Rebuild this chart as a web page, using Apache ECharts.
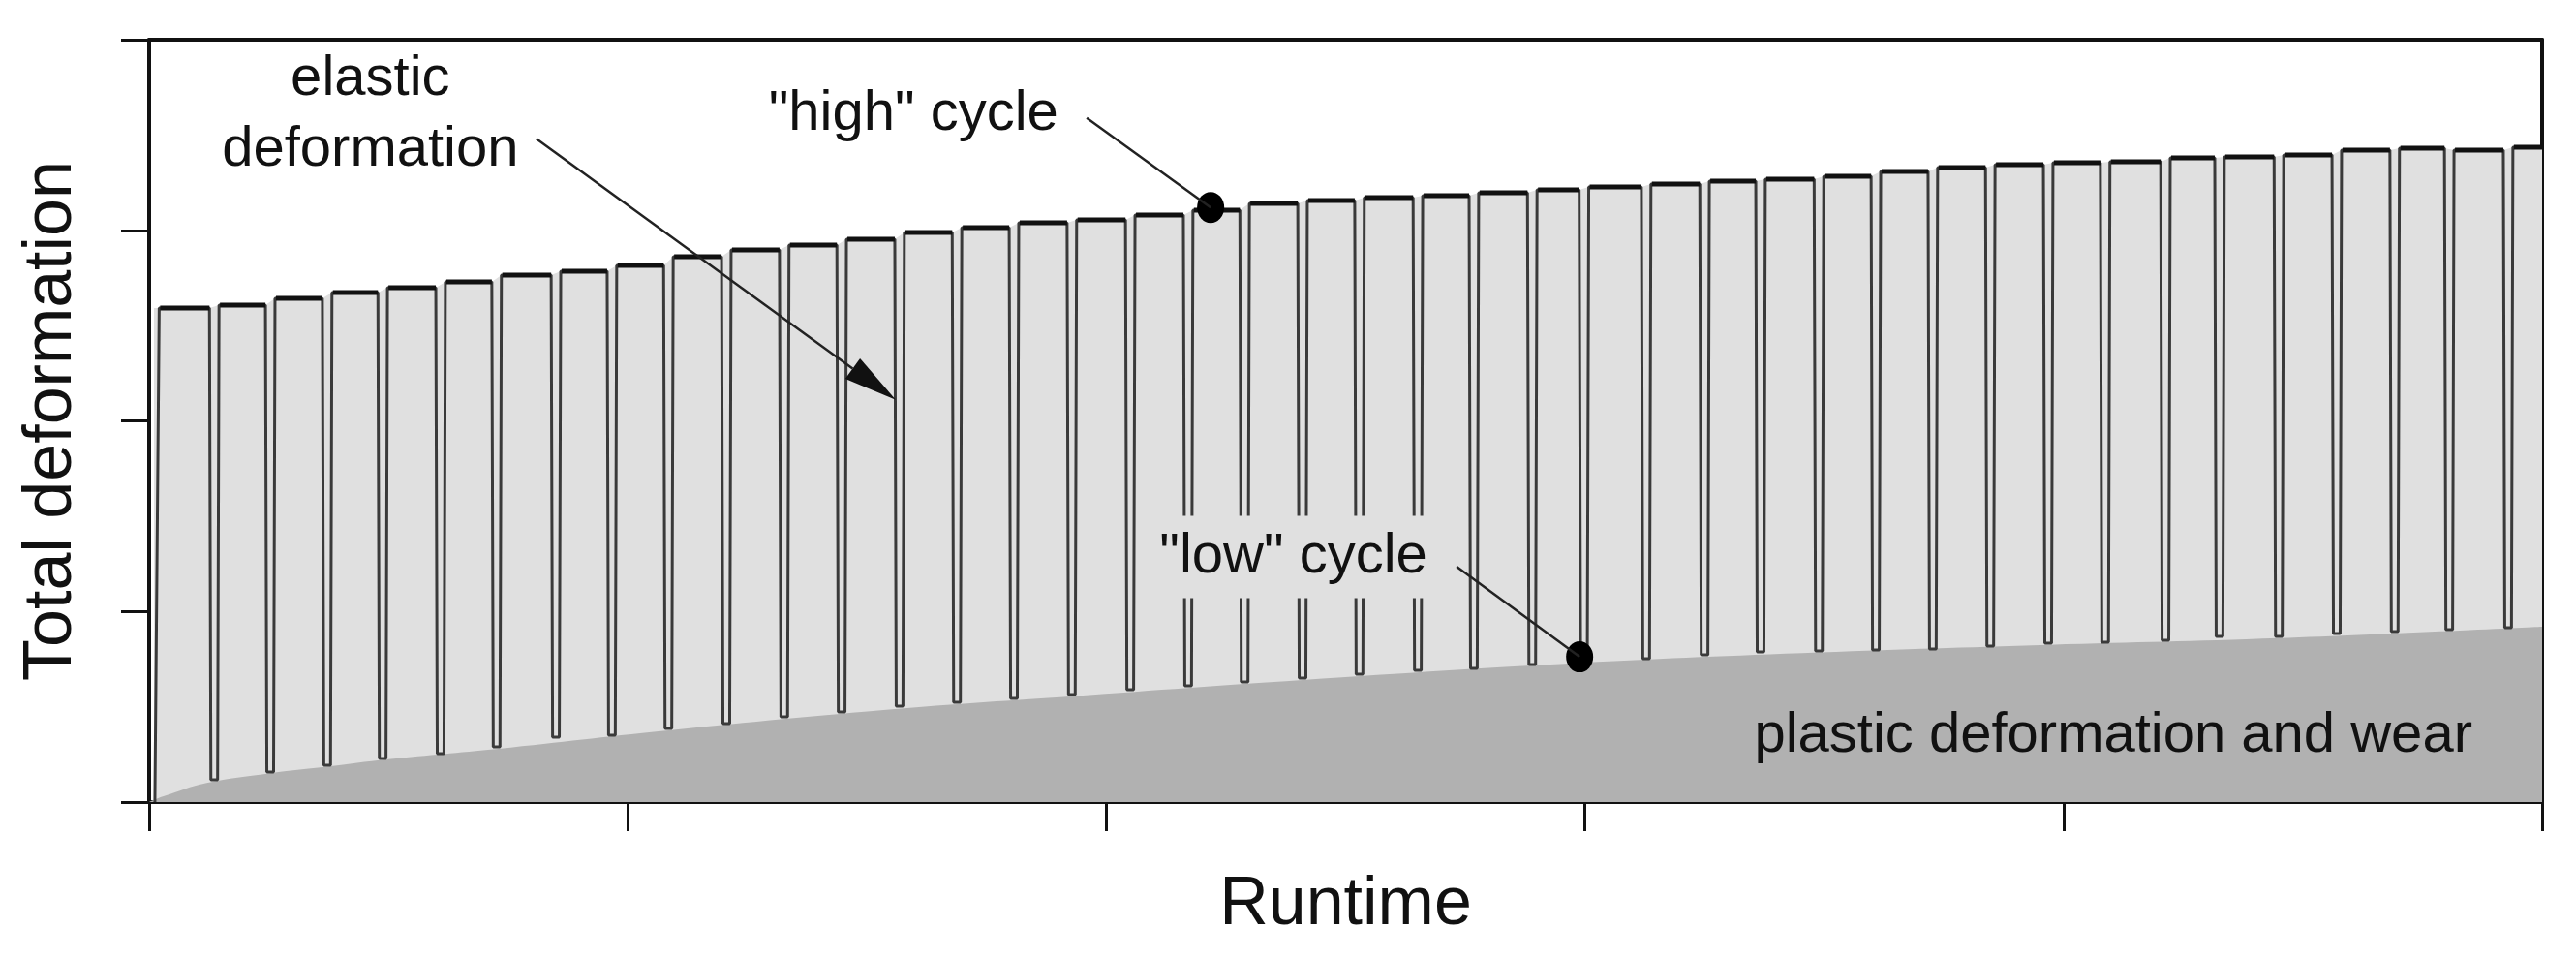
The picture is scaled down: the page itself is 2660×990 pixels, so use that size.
<!DOCTYPE html>
<html><head><meta charset="utf-8">
<script src="https://cdn.jsdelivr.net/npm/echarts@6/dist/echarts.min.js"></script>
<style>html,body{margin:0;padding:0;background:#fff}#c{width:2660px;height:990px}</style>
</head><body><div id="c"></div>
<script>
// ---- data ----
const firstRiseX = 0.18;
const valleyX = [1.36, 2.53, 3.72, 4.88, 6.09, 7.26, 8.50, 9.67, 10.85, 12.06, 13.27, 14.47, 15.68, 16.88, 18.07, 19.28, 20.50, 21.71, 22.89, 24.10, 25.29, 26.51, 27.68, 28.90, 29.98, 31.28, 32.50, 33.67, 34.89, 36.08, 37.27, 38.47, 39.68, 40.87, 42.13, 43.26, 44.50, 45.71, 46.92, 48.06, 49.29];
const lowVals = [0.117, 0.158, 0.193, 0.229, 0.254, 0.290, 0.341, 0.351, 0.386, 0.412, 0.447, 0.473, 0.503, 0.524, 0.544, 0.564, 0.590, 0.610, 0.630, 0.651, 0.671, 0.691, 0.701, 0.722, 0.737, 0.752, 0.773, 0.788, 0.793, 0.798, 0.803, 0.818, 0.834, 0.839, 0.849, 0.869, 0.869, 0.884, 0.895, 0.905, 0.915];
const highVals = [2.592, 2.607, 2.643, 2.673, 2.699, 2.729, 2.765, 2.785, 2.816, 2.862, 2.897, 2.923, 2.953, 2.989, 3.014, 3.040, 3.055, 3.080, 3.106, 3.141, 3.156, 3.172, 3.182, 3.197, 3.212, 3.227, 3.243, 3.258, 3.268, 3.283, 3.309, 3.329, 3.344, 3.354, 3.360, 3.380, 3.385, 3.395, 3.421, 3.431, 3.421, 3.436];
const plasticX = [0, 0.3, 1.2, 2.5, 3.7, 5.0, 7.3, 10.8, 15.7, 19.3, 24.1, 29.9, 34.9, 39.7, 44.5, 50];
const plasticY = [0, 0.03, 0.10, 0.15, 0.185, 0.225, 0.28, 0.375, 0.49, 0.555, 0.64, 0.73, 0.785, 0.825, 0.86, 0.92];
const xRange = [0, 50, 10];
const yRange = [0, 4, 1];
const highCycle = [22.18, 3.12];
const lowCycle = [29.89, 0.762];
const labels = {
  elastic1: 'elastic', elastic2: 'deformation', high: '"high" cycle', low: '"low" cycle',
  plastic: 'plastic deformation and wear', xName: 'Runtime', yName: 'Total deformation'
};
// annotation anchors in data units
const anchors = {
  elastic1: [4.62, 3.79], elastic2: [4.62, 3.42],
  arrowFrom: [8.09, 3.48], arrowTo: [15.60, 2.11],
  high: [15.97, 3.61], highFrom: [19.59, 3.59],
  low: [23.96, 1.286], lowFrom: [27.32, 1.235],
  plastic: [41.04, 0.346]
};

// ---- build series data ----
const HW = 0.1, BW = 0.07;
const wave = [[0.12, 0], [firstRiseX + 0.03, highVals[0]]];
const tops = [];
const envelope = [[0.1, highVals[0]]];
for (let i = 0; i < highVals.length; i++) {
  const s = i === 0 ? firstRiseX + 0.03 : valleyX[i - 1] + HW;
  const e = i === highVals.length - 1 ? xRange[1] : valleyX[i] - HW;
  tops.push([s + 0.02, highVals[i]], [e, highVals[i]], [e, '-']);
  envelope.push([s, highVals[i]], [e, highVals[i]]);
  if (i < valleyX.length) {
    const v = valleyX[i];
    wave.push([v - HW, highVals[i]], [v - BW, lowVals[i]], [v + BW, lowVals[i]], [v + HW, highVals[i + 1]]);
  }
}
wave.push([xRange[1], highVals[highVals.length - 1]]);
const plastic = plasticX.map((x, i) => [x, plasticY[i]]);

const FONT = '"Liberation Sans", Arial, Helvetica, sans-serif';
const chart = echarts.init(document.getElementById('c'), null, {renderer: 'canvas'});
const axisCommon = {
  type: 'value', splitLine: {show: false}, axisLabel: {show: false},
  axisLine: {show: true, onZero: false, lineStyle: {color: '#111', width: 4}}
};
const option = {
  animation: false,
  backgroundColor: '#fff',
  grid: {left: 154, right: 35, top: 41, bottom: 162, containLabel: false, outerBoundsMode: 'none'},
  xAxis: [
    Object.assign({}, axisCommon, {min: xRange[0], max: xRange[1], interval: xRange[2], position: 'bottom',
      axisTick: {show: true, inside: false, length: 30, lineStyle: {color: '#111', width: 3}},
      name: labels.xName, nameLocation: 'middle', nameGap: 72,
      nameTextStyle: {fontSize: 70, fontFamily: FONT, color: '#111'}}),
    Object.assign({}, axisCommon, {min: xRange[0], max: xRange[1], interval: xRange[2], position: 'top',
      axisTick: {show: false}})
  ],
  yAxis: [
    Object.assign({}, axisCommon, {min: yRange[0], max: yRange[1], interval: yRange[2], position: 'left',
      axisTick: {show: true, inside: false, length: 29, lineStyle: {color: '#111', width: 3}},
      name: labels.yName, nameLocation: 'middle', nameGap: 65,
      nameTextStyle: {fontSize: 70, fontFamily: FONT, color: '#111'}}),
    Object.assign({}, axisCommon, {min: yRange[0], max: yRange[1], interval: yRange[2], position: 'right',
      axisTick: {show: false}})
  ],
  series: [
    {type: 'line', data: envelope, symbol: 'none', lineStyle: {width: 0}, areaStyle: {color: '#e0e0e0', opacity: 1}, z: 1, silent: true},
    {type: 'line', data: plastic, symbol: 'none', smooth: 0.4, lineStyle: {width: 0}, areaStyle: {color: '#b1b1b1', opacity: 1}, z: 2, silent: true},
    {type: 'line', data: wave, symbol: 'none', lineStyle: {width: 3, color: '#3a3a3a'}, z: 3, silent: true},
    {type: 'line', data: tops, symbol: 'none', connectNulls: false, lineStyle: {width: 5, color: '#111'}, z: 4, silent: true},
    {type: 'scatter', data: [highCycle, lowCycle], symbol: 'circle', symbolSize: [28, 32], itemStyle: {color: '#000', opacity: 1}, z: 6, silent: true}
  ]
};
chart.setOption(option);

const P = p => chart.convertToPixel({xAxisIndex: 0, yAxisIndex: 0}, p);
function txt(key, bg) {
  const p = P(anchors[key]);
  const style = {text: labels[key], font: '58px ' + FONT, fill: '#111', align: 'center', verticalAlign: 'middle',
    textAlign: 'center', textVerticalAlign: 'middle'};
  if (bg) { style.backgroundColor = '#e0e0e0'; style.padding = [14, 13, 13, 8]; }
  return {type: 'text', x: p[0], y: p[1], style: style, z: 20};
}
function seg(a, b) {
  return {type: 'line', shape: {x1: a[0], y1: a[1], x2: b[0], y2: b[1]}, style: {stroke: '#222', lineWidth: 2.5}, z: 19};
}
const aFrom = P(anchors.arrowFrom), aTo = P(anchors.arrowTo);
const dx = aTo[0] - aFrom[0], dy = aTo[1] - aFrom[1], L = Math.hypot(dx, dy);
const ux = dx / L, uy = dy / L, AL = 55, AW = 13;
const base = [aTo[0] - ux * AL, aTo[1] - uy * AL];
const head = [[aTo[0], aTo[1]], [base[0] - uy * AW, base[1] + ux * AW], [base[0] + uy * AW, base[1] - ux * AW]];

chart.setOption({graphic: [
  txt('elastic1'), txt('elastic2'), txt('high'), txt('low', true), txt('plastic'),
  seg(aFrom, base),
  {type: 'polygon', shape: {points: head}, style: {fill: '#111'}, z: 19},
  seg(P(anchors.highFrom), P(highCycle)),
  seg(P(anchors.lowFrom), P(lowCycle))
]});
</script></body></html>
